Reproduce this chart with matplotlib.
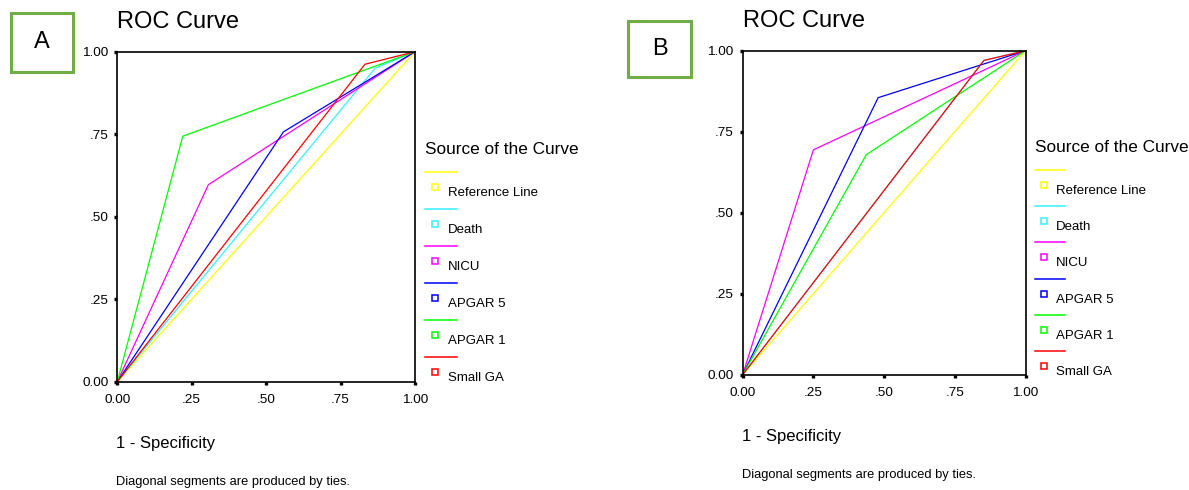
import matplotlib
matplotlib.use("Agg")
import matplotlib.pyplot as plt
from matplotlib.patches import Rectangle
from matplotlib.lines import Line2D

plt.rcParams['font.family'] = ['Liberation Sans', 'DejaVu Sans']

W, H = 1189, 490

# series names / colours (legend order)
names = ['Reference Line', 'Death', 'NICU', 'APGAR 5', 'APGAR 1', 'Small GA']
colors = ['#ffff00', '#33f0ff', '#ff00ff', '#0000ff', '#00ff00', '#ff0000']

# panel A: 1 - specificity / sensitivity
ref_x = [0, 1]
ref_y = [0, 1]
death_a_x = [0, 0.866, 1]
death_a_y = [0, 0.950, 1]
nicu_a_x = [0, 0.306, 1]
nicu_a_y = [0, 0.597, 1]
apgar5_a_x = [0, 0.558, 1]
apgar5_a_y = [0, 0.757, 1]
apgar1_a_x = [0, 0.220, 1]
apgar1_a_y = [0, 0.744, 1]
smallga_a_x = [0, 0.832, 1]
smallga_a_y = [0, 0.962, 1]

# panel B (Death lies under Small GA)
death_b_x = [0, 0.853, 1]
death_b_y = [0, 0.970, 1]
nicu_b_x = [0, 0.250, 1]
nicu_b_y = [0, 0.694, 1]
apgar5_b_x = [0, 0.479, 1]
apgar5_b_y = [0, 0.855, 1]
apgar1_b_x = [0, 0.437, 1]
apgar1_b_y = [0, 0.679, 1]
smallga_b_x = [0, 0.853, 1]
smallga_b_y = [0, 0.970, 1]

ticks = [0, 0.25, 0.5, 0.75, 1.0]
tick_labels = ['0.00', '.25', '.50', '.75', '1.00']


def px(x, y):
    return x / W, 1 - y / H


def panel(fig, box, letter, lbox, series, leg):
    l, t, r, b = box
    ax = fig.add_axes([l / W, 1 - b / H, (r - l) / W, (b - t) / H])
    for (xs, ys), c in zip(series, colors):
        ax.plot(xs, ys, color=c, lw=0.9, solid_joinstyle='miter')
    ax.set_xlim(0, 1)
    ax.set_ylim(0, 1)
    ax.set_xticks(ticks, tick_labels)
    ax.set_yticks(ticks, tick_labels)
    ax.tick_params(direction='out', length=2.5, width=2.4, labelsize=9.7,
                   colors='black')
    ax.tick_params(axis='x', pad=6)
    ax.tick_params(axis='y', pad=4)
    for s in ax.spines.values():
        s.set_linewidth(1.2)
        s.set_color('black')

    # title, axis label, footnote
    fig.text(*px(l, t - 30), 'ROC Curve', fontsize=17, va='center', ha='left')
    fig.text(*px(l - 1, b + 62), '1 - Specificity', fontsize=12, va='center')
    fig.text(*px(l - 1, b + 100), 'Diagonal segments are produced by ties.',
             fontsize=9.3, va='center')

    # letter box
    x0, y0, x1, y1 = lbox
    fig.patches.append(Rectangle((x0 / W, 1 - y1 / H), (x1 - x0) / W,
                                 (y1 - y0) / H, transform=fig.transFigure,
                                 fill=False, ec='#70ad47', lw=2.2))
    fig.text(*px((x0 + x1) / 2, (y0 + y1) / 2), letter, fontsize=17,
             ha='center', va='center')

    # SPSS style legend
    lx, ty, y_first, step, seg, moff, toff = leg
    fig.text(*px(lx, ty), 'Source of the Curve', fontsize=12.4, va='center')
    for i, (name, c) in enumerate(zip(names, colors)):
        yy = y_first + i * step
        fig.add_artist(Line2D([lx / W, (lx + seg) / W], [1 - yy / H] * 2,
                              color=c, lw=1.1, transform=fig.transFigure))
        fig.add_artist(Line2D([(lx + moff) / W], [1 - (yy + 15) / H],
                              marker='s', ms=4, mfc='none', mec=c, mew=1.1,
                              ls='none', transform=fig.transFigure))
        fig.text(*px(lx + toff, yy + 21), name, fontsize=9.5, va='center')
    return ax


fig = plt.figure(figsize=(W / 100, H / 100), dpi=100)

series_a = [(ref_x, ref_y), (death_a_x, death_a_y), (nicu_a_x, nicu_a_y),
            (apgar5_a_x, apgar5_a_y), (apgar1_a_x, apgar1_a_y),
            (smallga_a_x, smallga_a_y)]
series_b = [(ref_x, ref_y), (death_b_x, death_b_y), (nicu_b_x, nicu_b_y),
            (apgar5_b_x, apgar5_b_y), (apgar1_b_x, apgar1_b_y),
            (smallga_b_x, smallga_b_y)]

panel(fig, (117.3, 51.7, 415, 381.7), 'A', (11, 13, 73, 72), series_a,
      (425, 150, 172, 37, 32, 10, 23))
panel(fig, (742.7, 50.7, 1025.5, 374.7), 'B', (628, 21, 691, 77), series_b,
      (1035, 147, 170, 36.2, 30, 9, 21))

fig.savefig('out.png', dpi=100)
